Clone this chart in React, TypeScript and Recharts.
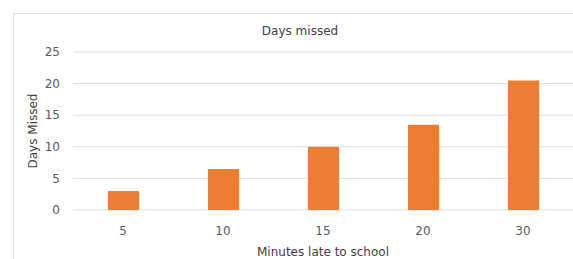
import React from "react";
import { BarChart, Bar, XAxis, YAxis, CartesianGrid } from "recharts";

const categories = ["5", "10", "15", "20", "30"];
const daysMissed = [3, 6.5, 10, 13.5, 20.5];
const yTicks = [0, 5, 10, 15, 20, 25];

const data = categories.map((c, i) => ({ minutes: c, days: daysMissed[i] }));

const FONT = "'DejaVu Sans', sans-serif";
const TICK = { fill: "#595959", fontSize: 12, fontFamily: FONT };

export default function App() {
  return (
    <div style={{ position: "absolute", left: 0, top: 0, width: 573, height: 259, background: "#fff", overflow: "hidden" }}>
      <div style={{ position: "absolute", left: 13, top: 13, width: 600, height: 300, border: "1px solid #E3E3E3", boxSizing: "border-box" }} />
      <div style={{ position: "absolute", left: 0, top: 24, width: 600, textAlign: "center", fontFamily: FONT, fontSize: 12, color: "#404040" }}>
        Days missed
      </div>
      <div style={{ position: "absolute", left: 0, top: 0 }}>
        <BarChart width={573} height={259} data={data} margin={{ top: 52, right: 0, bottom: 0, left: 0 }}>
          <CartesianGrid vertical={false} stroke="#DEDEDE" />
          <XAxis
            dataKey="minutes"
            height={49}
            axisLine={false}
            tickLine={false}
            tick={TICK}
            tickMargin={10}
            label={{ value: "Minutes late to school", position: "insideBottom", offset: 3, fill: "#404040", fontSize: 12, fontFamily: FONT }}
          />
          <YAxis
            width={73}
            domain={[0, 25]}
            ticks={yTicks}
            axisLine={false}
            tickLine={false}
            tick={TICK}
            tickMargin={7}
            label={{ value: "Days Missed", angle: -90, position: "insideLeft", offset: 33, fill: "#404040", fontSize: 12, fontFamily: FONT, style: { textAnchor: "middle" } }}
          />
          <Bar dataKey="days" fill="#ED7D31" barSize={31} isAnimationActive={false} />
        </BarChart>
      </div>
    </div>
  );
}
